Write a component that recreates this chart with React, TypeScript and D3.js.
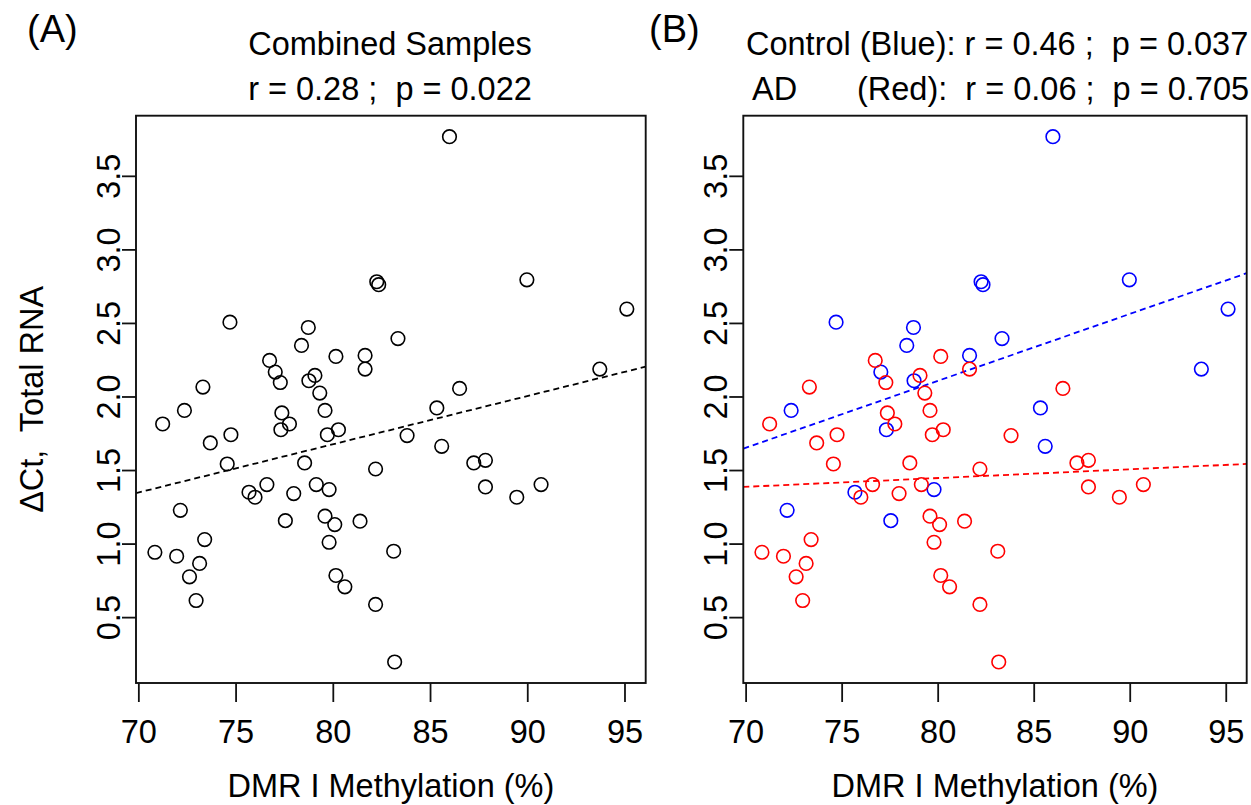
import React, { useEffect, useRef } from "react";
import * as d3 from "d3";

// Control group (blue)
const controlX = [82.26, 82.36, 74.71, 78.74, 78.39, 77.04, 81.66, 78.77, 86.0, 89.98, 95.12, 83.35, 93.73, 72.37, 77.33, 75.69, 79.81, 72.16, 77.56, 85.35, 85.6];
const controlY = [2.78, 2.76, 2.505, 2.469, 2.347, 2.166, 2.279, 2.107, 3.766, 2.793, 2.594, 2.394, 2.186, 1.905, 1.774, 1.349, 1.367, 1.226, 1.156, 1.922, 1.661];

// AD group (red)
const adX = [76.75, 77.3, 80.16, 81.66, 73.32, 79.08, 79.33, 86.52, 79.6, 71.25, 77.38, 77.77, 79.72, 80.29, 74.76, 73.7, 74.57, 78.55, 82.2, 76.61, 76.0, 77.99, 79.15, 79.6, 80.1, 81.4, 73.41, 79.81, 70.85, 71.97, 73.15, 72.63, 80.16, 80.62, 72.97, 82.2, 83.82, 87.25, 87.85, 87.85, 89.46, 90.71, 83.13, 83.18];
const adY = [2.245, 2.095, 2.272, 2.186, 2.064, 2.143, 2.023, 2.055, 1.905, 1.813, 1.888, 1.813, 1.74, 1.774, 1.74, 1.684, 1.541, 1.548, 1.507, 1.401, 1.315, 1.34, 1.401, 1.186, 1.129, 1.152, 1.027, 1.009, 0.941, 0.914, 0.865, 0.774, 0.783, 0.706, 0.613, 0.586, 1.734, 1.548, 1.566, 1.385, 1.315, 1.401, 0.948, 0.195];

// regression lines [intercept, slope]
const fitAll = [-0.949, 0.0328];
const fitControl = [-1.534, 0.0455];
const fitAD = [0.9686, 0.00596];

const xTicks = [70, 75, 80, 85, 90, 95];
const yTicks = [0.5, 1.0, 1.5, 2.0, 2.5, 3.0, 3.5];

const FONT = "'Liberation Sans', Arial, sans-serif";
const FS = 32.5;
const TOP = 115.7;
const BOTTOM = 683;

// R style: pad the data range by 4% on each side
function padExtent(vals) {
  const [lo, hi] = d3.extent(vals);
  const d = (hi - lo) * 0.04;
  return [lo - d, hi + d];
}

function drawPanel(svg, left, right, groups) {
  const allX = controlX.concat(adX);
  const allY = controlY.concat(adY);
  const x = d3.scaleLinear().domain(padExtent(allX)).range([left, right]);
  const y = d3.scaleLinear().domain(padExtent(allY)).range([BOTTOM, TOP]);

  const g = svg.append("g");

  // clip for the fit lines
  const clipId = "clip" + Math.round(left);
  g.append("clipPath")
    .attr("id", clipId)
    .append("rect")
    .attr("x", left)
    .attr("y", TOP)
    .attr("width", right - left)
    .attr("height", BOTTOM - TOP);

  // fit lines
  groups.forEach((grp) => {
    const [a, b] = grp.fit;
    const [d0, d1] = x.domain();
    g.append("line")
      .attr("clip-path", `url(#${clipId})`)
      .attr("x1", x(d0))
      .attr("x2", x(d1))
      .attr("y1", y(a + b * d0))
      .attr("y2", y(a + b * d1))
      .attr("stroke", grp.color)
      .attr("stroke-width", 1.8)
      .attr("stroke-dasharray", "6 4");
  });

  // points
  groups.forEach((grp) => {
    g.append("g")
      .selectAll("circle")
      .data(grp.xs.map((v, i) => [v, grp.ys[i]]))
      .enter()
      .append("circle")
      .attr("cx", (d) => x(d[0]))
      .attr("cy", (d) => y(d[1]))
      .attr("r", 6.8)
      .attr("fill", "none")
      .attr("stroke", grp.color)
      .attr("stroke-width", 1.6);
  });

  // box
  g.append("rect")
    .attr("x", left)
    .attr("y", TOP)
    .attr("width", right - left)
    .attr("height", BOTTOM - TOP)
    .attr("fill", "none")
    .attr("stroke", "#111")
    .attr("stroke-width", 1.9);

  // x axis
  const xa = g
    .append("g")
    .attr("transform", `translate(0,${BOTTOM})`)
    .call(d3.axisBottom(x).tickValues(xTicks).tickSize(19).tickPadding(18).tickSizeOuter(0));
  xa.select(".domain").remove();
  xa.selectAll("line").attr("stroke", "#111").attr("stroke-width", 1.8);
  xa.selectAll("text")
    .style("font-family", FONT)
    .style("font-size", FS + "px")
    .attr("fill", "#000");

  // y axis with rotated labels
  const ya = g
    .append("g")
    .attr("transform", `translate(${left},0)`)
    .call(d3.axisLeft(y).tickValues(yTicks).tickSize(14).tickFormat(d3.format(".1f")).tickSizeOuter(0));
  ya.select(".domain").remove();
  ya.selectAll("line").attr("stroke", "#111").attr("stroke-width", 1.8);
  ya.selectAll("text")
    .attr("transform", "rotate(-90)")
    .attr("x", 0)
    .attr("y", -16)
    .attr("dy", 0)
    .attr("text-anchor", "middle")
    .style("font-family", FONT)
    .style("font-size", FS + "px")
    .attr("fill", "#000");

  // x axis title
  g.append("text")
    .attr("x", (left + right) / 2)
    .attr("y", 797)
    .attr("text-anchor", "middle")
    .style("font-family", FONT)
    .style("font-size", FS + "px")
    .text("DMR I Methylation (%)");
}

const App = () => {
  const ref = useRef(null);

  useEffect(() => {
    const svg = d3.select(ref.current);
    svg.selectAll("*").remove();

    drawPanel(svg, 136, 645.7, [
      { xs: controlX.concat(adX), ys: controlY.concat(adY), color: "#000", fit: fitAll },
    ]);
    drawPanel(svg, 743.3, 1246.7, [
      { xs: controlX, ys: controlY, color: "#0000FF", fit: fitControl },
      { xs: adX, ys: adY, color: "#FF0000", fit: fitAD },
    ]);

    const txt = (x, y, s, anchor = "start", size = FS) =>
      svg
        .append("text")
        .attr("x", x)
        .attr("y", y)
        .attr("text-anchor", anchor)
        .style("font-family", FONT)
        .style("font-size", size + "px")
        .style("white-space", "pre")
        .text(s);

    // panel letters
    txt(27, 42, "(A)", "start", 38);
    txt(649, 42, "(B)", "start", 38);

    // panel A titles
    txt(390, 55, "Combined Samples", "middle");
    txt(390, 100, "r = 0.28 ;  p = 0.022", "middle");

    // panel B titles
    txt(746, 55, "Control (Blue): r = 0.46 ;  p = 0.037");
    txt(752, 100, "AD");
    txt(857, 100, "(Red):  r = 0.06 ;  p = 0.705");

    // y axis title
    svg
      .append("text")
      .attr("transform", `translate(43,${(TOP + BOTTOM) / 2}) rotate(-90)`)
      .attr("text-anchor", "middle")
      .style("font-family", FONT)
      .style("font-size", FS + "px")
      .style("white-space", "pre")
      .text("\u0394Ct,  Total RNA");
  }, []);

  return (
    <svg
      ref={ref}
      width={1251}
      height={805}
      style={{ position: "absolute", left: 0, top: 0, background: "#fff" }}
    />
  );
};

export default App;
